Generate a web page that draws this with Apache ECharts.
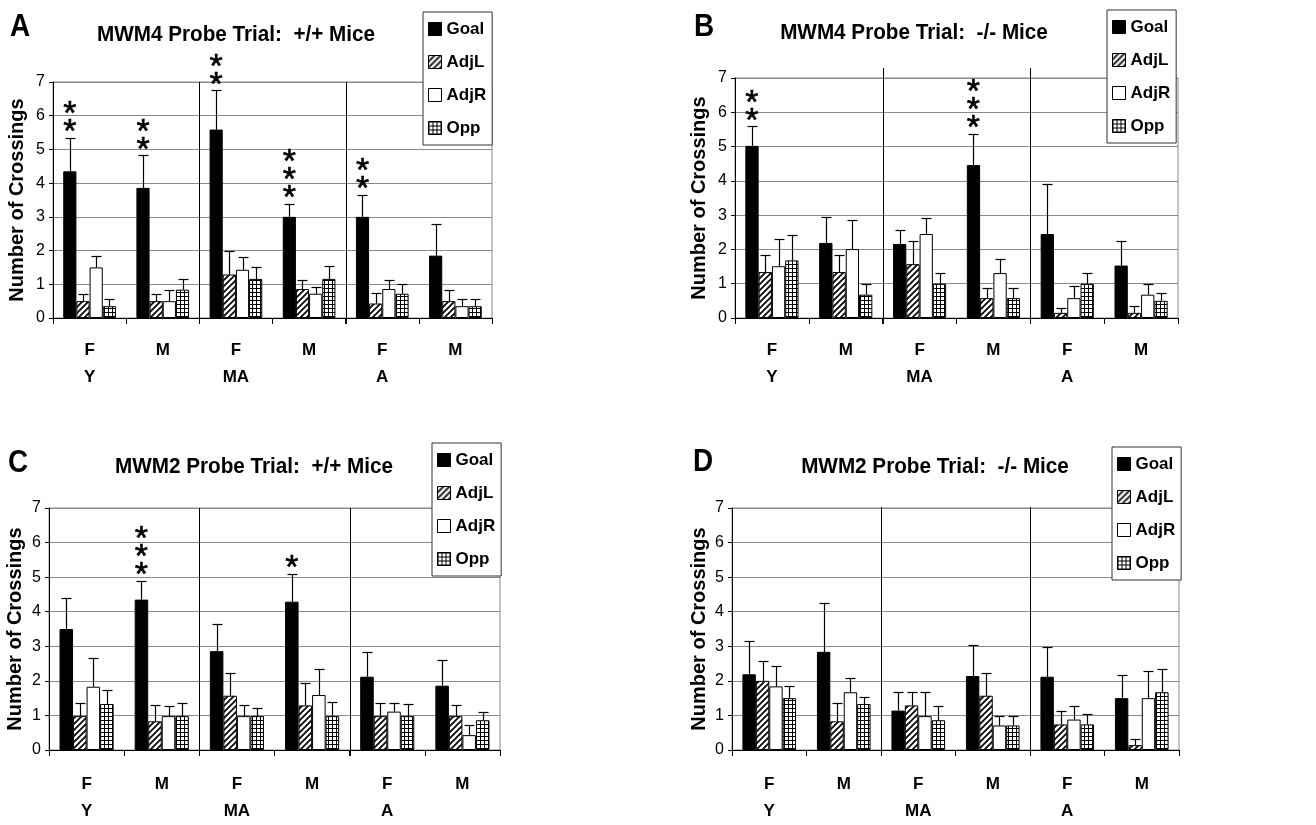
<!DOCTYPE html>
<html>
<head>
<meta charset="utf-8">
<script src="https://cdn.jsdelivr.net/npm/echarts@6/dist/echarts.min.js"></script>
<style>html,body{margin:0;padding:0;background:#fff;}#c{width:1316px;height:825px;}</style>
</head>
<body>
<div id="c"></div>
<script>
// ---------- DATA ----------
const categories = ['F', 'M', 'F', 'M', 'F', 'M'];
const groupLabels = ['Y', '', 'MA', '', 'A', ''];
const groupStarts = [2, 4];
const seriesNames = ['Goal', 'AdjL', 'AdjR', 'Opp'];
const yTicks = [0, 1, 2, 3, 4, 5, 6, 7];

// Panel A: MWM4 +/+
const aGoal = [4.35, 3.86, 5.59, 3.0, 3.0, 1.85];
const aGoalErr = [5.34, 4.83, 6.75, 3.39, 3.66, 2.79];
const aAdjL = [0.5, 0.5, 1.29, 0.86, 0.43, 0.5];
const aAdjLErr = [0.72, 0.72, 1.98, 1.14, 0.74, 0.84];
const aAdjR = [1.5, 0.5, 1.43, 0.72, 0.86, 0.35];
const aAdjRErr = [1.85, 0.84, 1.8, 0.92, 1.14, 0.56];
const aOpp = [0.35, 0.84, 1.16, 1.16, 0.72, 0.35];
const aOppErr = [0.56, 1.16, 1.5, 1.55, 1.0, 0.56];
const aStars = [2, 2, 2, 3, 2, 0];

// Panel B: MWM4 -/-
const bGoal = [5.02, 2.19, 2.16, 4.46, 2.45, 1.53];
const bGoalErr = [5.59, 2.96, 2.58, 5.37, 3.91, 2.24];
const bAdjL = [1.34, 1.34, 1.57, 0.58, 0.15, 0.15];
const bAdjLErr = [1.84, 1.84, 2.24, 0.87, 0.29, 0.34];
const bAdjR = [1.51, 2.01, 2.45, 1.31, 0.58, 0.68];
const bAdjRErr = [2.31, 2.87, 2.92, 1.72, 0.94, 1.0];
const bOpp = [1.68, 0.68, 1.0, 0.58, 1.0, 0.5];
const bOppErr = [2.43, 1.0, 1.31, 0.87, 1.31, 0.73];
const bStars = [2, 0, 0, 3, 0, 0];

// Panel C: MWM2 +/+
const cGoal = [3.5, 4.35, 2.86, 4.29, 2.12, 1.86];
const cGoalErr = [4.41, 4.89, 3.65, 5.1, 2.83, 2.59];
const cAdjL = [0.98, 0.83, 1.57, 1.29, 0.98, 0.98];
const cAdjLErr = [1.36, 1.31, 2.22, 1.93, 1.36, 1.3];
const cAdjR = [1.83, 0.98, 0.98, 1.59, 1.11, 0.43];
const cAdjRErr = [2.67, 1.26, 1.31, 2.35, 1.35, 0.71];
const cOpp = [1.33, 0.98, 0.98, 0.98, 0.98, 0.86];
const cOppErr = [1.74, 1.36, 1.22, 1.38, 1.33, 1.11];
const cStars = [0, 3, 0, 1, 0, 0];

// Panel D: MWM2 -/-
const dGoal = [2.19, 2.84, 1.14, 2.14, 2.12, 1.5];
const dGoalErr = [3.14, 4.24, 1.69, 3.05, 2.97, 2.16];
const dAdjL = [2.0, 0.83, 1.29, 1.57, 0.74, 0.14];
const dAdjLErr = [2.57, 1.36, 1.69, 2.22, 1.14, 0.33];
const dAdjR = [1.84, 1.67, 0.98, 0.71, 0.88, 1.5];
const dAdjRErr = [2.43, 2.08, 1.69, 0.98, 1.26, 2.29];
const dOpp = [1.5, 1.33, 0.86, 0.71, 0.74, 1.67];
const dOppErr = [1.84, 1.52, 1.26, 0.98, 1.05, 2.33];
const dStars = [0, 0, 0, 0, 0, 0];

const titles = ['MWM4 Probe Trial:  +/+ Mice', 'MWM4 Probe Trial:  -/- Mice', 'MWM2 Probe Trial:  +/+ Mice', 'MWM2 Probe Trial:  -/- Mice'];
const letters = ['A', 'B', 'C', 'D'];
const yAxisTitle = 'Number of Crossings';

// ---------- LAYOUT (positions / styles) ----------
const layout = [
  { grid: { left: 53, top: 82, width: 439, height: 236 }, title: [236, 35], letter: [20, 27], legend: { left: 423, top: 12 }, nameGap: 26, labelMargin: 19, sepTop: 0 },
  { grid: { left: 735, top: 78, width: 443, height: 240 }, title: [914, 33], letter: [704, 27], legend: { left: 1107, top: 10 }, nameGap: 26, labelMargin: 19, sepTop: 10 },
  { grid: { left: 49, top: 508, width: 451, height: 245 }, title: [254, 467], letter: [18, 463], legend: { left: 432, top: 443 }, nameGap: 24, labelMargin: 21, sepTop: 0 },
  { grid: { left: 732, top: 508, width: 447, height: 245 }, title: [935, 467], letter: [703, 462], legend: { left: 1112, top: 447 }, nameGap: 23, labelMargin: 21, sepTop: 1 }
];

const panelData = [
  { vals: [aGoal, aAdjL, aAdjR, aOpp], errs: [aGoalErr, aAdjLErr, aAdjRErr, aOppErr], stars: aStars },
  { vals: [bGoal, bAdjL, bAdjR, bOpp], errs: [bGoalErr, bAdjLErr, bAdjRErr, bOppErr], stars: bStars },
  { vals: [cGoal, cAdjL, cAdjR, cOpp], errs: [cGoalErr, cAdjLErr, cAdjRErr, cOppErr], stars: cStars },
  { vals: [dGoal, dAdjL, dAdjR, dOpp], errs: [dGoalErr, dAdjLErr, dAdjRErr, dOppErr], stars: dStars }
];

const FONT = '"Liberation Sans", Arial, Helvetica, sans-serif';
const CAT_GAP = 0.28;
const GRID_GRAY = '#8a8a8a';

function stripePattern() {
  const c = document.createElement('canvas');
  c.width = 6; c.height = 6;
  const g = c.getContext('2d');
  g.fillStyle = '#fff'; g.fillRect(0, 0, 6, 6);
  g.strokeStyle = '#000'; g.lineWidth = 1.7;
  g.beginPath();
  g.moveTo(0, 6); g.lineTo(6, 0);
  g.moveTo(-1, 1); g.lineTo(1, -1);
  g.moveTo(5, 7); g.lineTo(7, 5);
  g.stroke();
  return { image: c, repeat: 'repeat' };
}
function gridPattern() {
  const c = document.createElement('canvas');
  c.width = 4; c.height = 4;
  const g = c.getContext('2d');
  g.fillStyle = '#fff'; g.fillRect(0, 0, 4, 4);
  g.fillStyle = '#000';
  g.fillRect(0, 0, 4, 1); g.fillRect(0, 0, 1, 4);
  return { image: c, repeat: 'repeat' };
}
const fills = ['#000', stripePattern(), '#fff', gridPattern()];

const grids = [], xAxes = [], yAxes = [], series = [], legends = [], graphics = [];

layout.forEach((L, p) => {
  grids.push(Object.assign({ containLabel: false, show: true, borderColor: GRID_GRAY, borderWidth: 1, backgroundColor: 'transparent' }, L.grid));
  xAxes.push({
    type: 'category', gridIndex: p, data: categories,
    axisLine: { lineStyle: { color: '#000', width: 1 } },
    axisTick: { show: true, length: 6, interval: 0, lineStyle: { color: '#000' } },
    axisLabel: {
      interval: 0, margin: L.labelMargin, color: '#000', fontFamily: FONT, fontWeight: 'bold', fontSize: 17, lineHeight: 27,
      formatter: (v, i) => v + '\n' + (groupLabels[i] || ' ')
    },
    splitLine: { show: false }
  });
  yAxes.push({
    type: 'value', gridIndex: p, min: yTicks[0], max: yTicks[yTicks.length - 1], interval: 1,
    name: yAxisTitle, nameLocation: 'middle', nameRotate: 90, nameGap: L.nameGap,
    nameTextStyle: { color: '#000', fontFamily: FONT, fontWeight: 'bold', fontSize: 20 },
    axisLine: { show: true, lineStyle: { color: '#000', width: 1 } },
    axisTick: { show: true, length: 4, lineStyle: { color: '#000' } },
    axisLabel: { color: '#000', fontFamily: FONT, fontSize: 16, margin: 8 },
    splitLine: { show: true, lineStyle: { color: GRID_GRAY, width: 1 } }
  });
  const D = panelData[p];
  seriesNames.forEach((name, s) => {
    series.push({
      type: 'bar', name, xAxisIndex: p, yAxisIndex: p, data: D.vals[s],
      barGap: '0%', barCategoryGap: (CAT_GAP * 100) + '%',
      itemStyle: { color: fills[s], borderColor: '#000', borderWidth: 1 },
      emphasis: { disabled: true }, z: 2
    });
  });
  // group separators
  series.push({
    type: 'custom', name: 'sep' + p, xAxisIndex: p, yAxisIndex: p, data: groupStarts.map(c => [c, 0]), z: 1,
    encode: { x: 0, y: 1 }, silent: true,
    renderItem: (params, api) => {
      const c = api.value(0);
      const band = api.size([1, 0])[0];
      const x = Math.round(api.coord([c, 0])[0] - band / 2) + 0.5;
      const cs = params.coordSys;
      return { type: 'line', shape: { x1: x, y1: cs.y - L.sepTop, x2: x, y2: cs.y + cs.height + 6 }, style: { stroke: '#000', lineWidth: 1 } };
    }
  });
  const errData = [];
  seriesNames.forEach((name, s) => {
    D.vals[s].forEach((v, c) => errData.push([c, v, D.errs[s][c], s]));
  });
  series.push({
    type: 'custom', name: 'err' + p, xAxisIndex: p, yAxisIndex: p, data: errData, z: 3,
    encode: { x: 0, y: [1, 2] }, silent: true,
    renderItem: (params, api) => {
      const c = api.value(0), v = api.value(1), e = api.value(2), s = api.value(3);
      const band = api.size([1, 0])[0];
      const bw = band * (1 - CAT_GAP) / 4;
      const b = api.coord([c, v]), t = api.coord([c, e]);
      const x = Math.round(b[0] - 2 * bw + (s + 0.5) * bw) + 0.5;
      const ty = Math.round(t[1]) + 0.5;
      return { type: 'group', children: [
        { type: 'line', shape: { x1: x, y1: b[1], x2: x, y2: ty }, style: { stroke: '#000', lineWidth: 1.2 } },
        { type: 'line', shape: { x1: x - 5, y1: ty, x2: x + 5, y2: ty }, style: { stroke: '#000', lineWidth: 1.2 } }
      ] };
    }
  });
  const starData = [];
  D.stars.forEach((n, c) => { if (n > 0) starData.push([c, D.errs[0][c], n]); });
  series.push({
    type: 'custom', name: 'stars' + p, xAxisIndex: p, yAxisIndex: p, data: starData, z: 4,
    encode: { x: 0, y: 1 }, silent: true,
    renderItem: (params, api) => {
      const c = api.value(0), e = api.value(1), n = api.value(2);
      const band = api.size([1, 0])[0];
      const bw = band * (1 - CAT_GAP) / 4;
      const t = api.coord([c, e]);
      const x = t[0] - 1.5 * bw;
      const kids = [];
      for (let k = 0; k < n; k++) {
        kids.push({ type: 'text', style: { text: '*', x: x, y: t[1] - 5 - k * 18, align: 'center', verticalAlign: 'middle', font: '34px ' + FONT, fill: '#000', stroke: '#000', lineWidth: 0.6 } });
      }
      return { type: 'group', children: kids };
    }
  });
  legends.push({
    data: seriesNames, orient: 'vertical', left: L.legend.left, top: L.legend.top,
    itemWidth: 13, itemHeight: 13, itemGap: 15, itemTextGap: 5,
    padding: [8, 6, 8, 5], backgroundColor: '#fff', borderColor: '#333', borderWidth: 1,
    selectedMode: false, icon: 'rect',
    itemStyle: { borderColor: '#000', borderWidth: 1 },
    textStyle: { color: '#000', fontFamily: FONT, fontWeight: 'bold', fontSize: 17, lineHeight: 18 }
  });
  graphics.push({ type: 'text', x: L.title[0], y: L.title[1], scaleX: 0.94, style: { text: titles[p], x: 0, y: 0, align: 'center', verticalAlign: 'middle', font: 'bold 22px ' + FONT, fill: '#000' } });
  graphics.push({ type: 'text', x: L.letter[0], y: L.letter[1], scaleX: 0.9, style: { text: letters[p], x: 0, y: 0, align: 'center', verticalAlign: 'middle', font: 'bold 31px ' + FONT, fill: '#000' } });
});

const chart = echarts.init(document.getElementById('c'), null, { renderer: 'canvas' });
chart.setOption({
  backgroundColor: '#fff',
  animation: false,
  grid: grids, xAxis: xAxes, yAxis: yAxes, series, legend: legends,
  graphic: { elements: graphics }
});
</script>
</body>
</html>
